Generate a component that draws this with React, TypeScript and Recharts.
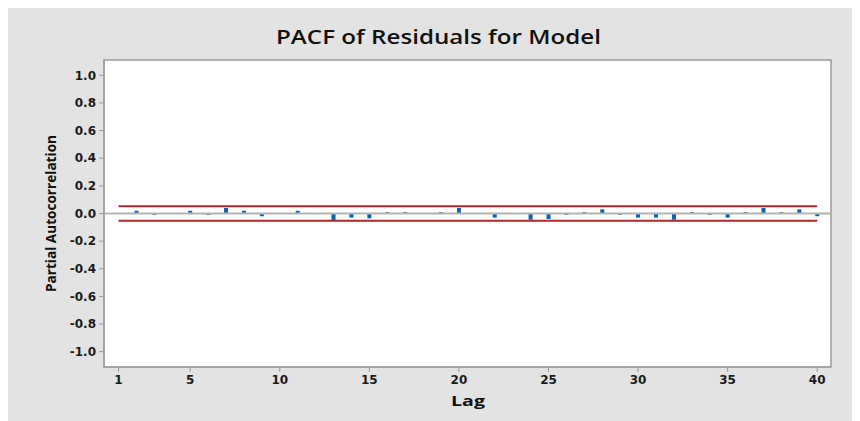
import {
  Bar,
  CartesianGrid,
  ComposedChart,
  Label,
  ReferenceArea,
  ReferenceLine,
  XAxis,
  YAxis,
} from 'recharts'

const LAGS = [
  1, 2, 3, 4, 5, 6, 7, 8, 9, 10, 11, 12, 13, 14, 15, 16, 17, 18, 19, 20,
  21, 22, 23, 24, 25, 26, 27, 28, 29, 30, 31, 32, 33, 34, 35, 36, 37, 38, 39, 40,
]
const PACF = [
  0.004, 0.02, -0.01, 0.004, 0.02, -0.01, 0.04, 0.02, -0.02, 0.004,
  0.02, -0.004, -0.05, -0.03, -0.035, 0.01, 0.01, 0.004, 0.01, 0.04,
  0.003, -0.03, -0.004, -0.045, -0.04, -0.01, 0.01, 0.03, -0.01, -0.03,
  -0.03, -0.045, 0.01, -0.01, -0.03, 0.01, 0.04, 0.01, 0.03, -0.02,
]
const X_TICKS = [1, 5, 10, 15, 20, 25, 30, 35, 40]
const Y_TICKS = [-1, -0.8, -0.6, -0.4, -0.2, 0, 0.2, 0.4, 0.6, 0.8, 1]
const LIMIT = 0.053

const data = LAGS.map((lag, i) => ({ lag, pacf: PACF[i] }))

const FONT = '"DejaVu Sans", sans-serif'
const X_DOMAIN: [number, number] = [0.19, 40.77]
const Y_DOMAIN: [number, number] = [-1.111, 1.111]

function YLabel({ viewBox }: any) {
  const cy = viewBox.y + viewBox.height / 2
  return (
    <text
      x={42}
      y={cy}
      transform={`rotate(-90 42 ${cy})`}
      textAnchor="middle"
      dominantBaseline="central"
      fontFamily="'Open Sans', sans-serif"
      fontWeight="bold"
      fontSize={15}
      fill="#111"
      textLength={157}
      lengthAdjust="spacingAndGlyphs"
    >
      Partial Autocorrelation
    </text>
  )
}

function XLabel() {
  return (
    <text
      x={460}
      y={398}
      textAnchor="middle"
      fontFamily="'Open Sans', sans-serif"
      fontWeight="bold"
      fontSize={15}
      fill="#111"
      textLength={34}
      lengthAdjust="spacingAndGlyphs"
    >
      Lag
    </text>
  )
}

export default function App() {
  return (
    <div style={{ position: 'relative', width: 852, height: 413, background: '#e3e3e3' }}>
      <svg width={852} height={60} style={{ position: 'absolute', left: 0, top: 0 }}>
        <text
          x={430.5}
          y={36}
          textAnchor="middle"
          fontFamily="'Open Sans', sans-serif"
          fontWeight={600}
          fontSize={19}
          fill="#111"
          textLength={325}
          lengthAdjust="spacingAndGlyphs"
        >
          PACF of Residuals for Model
        </text>
      </svg>
      <ComposedChart
        width={852}
        height={413}
        data={data}
        margin={{ top: 52, right: 29, bottom: 0, left: 0 }}
        style={{ position: 'absolute', left: 0, top: 0 }}
      >
        <CartesianGrid horizontal={false} vertical={false} fill="#ffffff" />
        <XAxis
          dataKey="lag"
          type="number"
          domain={X_DOMAIN}
          ticks={X_TICKS}
          allowDataOverflow
          height={54}
          tickSize={5}
          tickMargin={3}
          stroke="#9a9a9a"
          tick={{ fontSize: 12, fontFamily: FONT, fontWeight: 'bold', fill: '#1a1a1a' }}
        >
          <Label content={<XLabel />} />
        </XAxis>
        <YAxis
          type="number"
          domain={Y_DOMAIN}
          ticks={Y_TICKS}
          allowDataOverflow
          width={96}
          tickSize={5}
          tickMargin={3}
          stroke="#9a9a9a"
          tickFormatter={(v: number) => v.toFixed(1)}
          tick={{ fontSize: 12, fontFamily: FONT, fontWeight: 'bold', fill: '#1a1a1a' }}
        >
          <Label content={<YLabel />} />
        </YAxis>
        <ReferenceLine y={0} stroke="#b4b4b4" strokeWidth={2} />
        <ReferenceLine
          segment={[{ x: 1, y: LIMIT }, { x: 40, y: LIMIT }]}
          stroke="#b3262b"
          strokeWidth={2}
        />
        <ReferenceLine
          segment={[{ x: 1, y: -LIMIT }, { x: 40, y: -LIMIT }]}
          stroke="#b3262b"
          strokeWidth={2}
        />
        <Bar dataKey="pacf" fill="#1160ab" barSize={4} isAnimationActive={false} />
        <ReferenceArea
          x1={X_DOMAIN[0]}
          x2={X_DOMAIN[1]}
          y1={Y_DOMAIN[0]}
          y2={Y_DOMAIN[1]}
          fill="none"
          fillOpacity={0}
          stroke="#9a9a9a"
          strokeWidth={1.5}
        />
      </ComposedChart>
    </div>
  )
}
